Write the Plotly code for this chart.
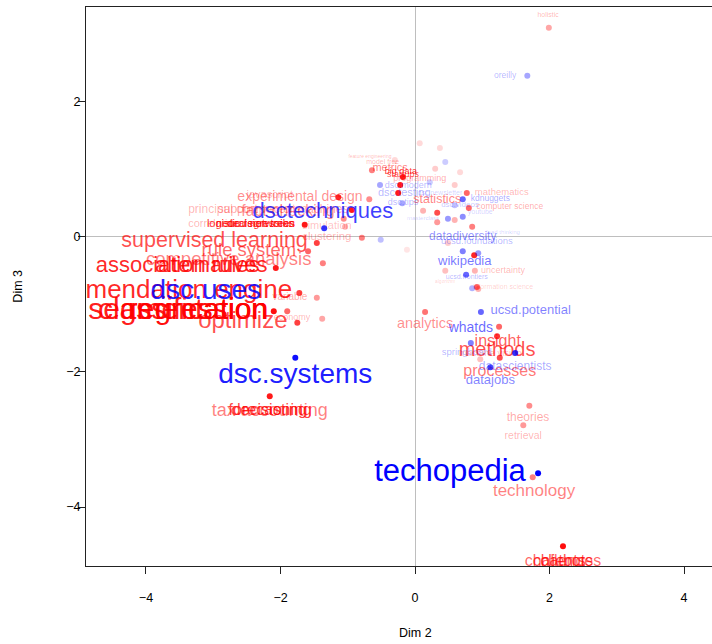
import plotly.graph_objects as go

# ---------------- data (CA map, Dim 2 vs Dim 3) ----------------
# Row points (terms, red): coordinates and contribution-based alpha
term_px = [1.99, -0.64, -0.18, -0.22, -0.25, 0.07, 0.37, 0.30, 0.77, 0.80, -0.68, -1.14, -0.94,
           -1.06, -1.04, -0.79, -1.64, -1.46, -1.59, -1.37, -2.07, -1.72, -1.46, -2.10, -1.90,
           -1.38, -1.75, -2.16, 0.15, 1.25, 1.22, 1.26, 0.97, 1.70, 1.61, 1.75, 2.20, 0.33, 0.33,
           0.12, 0.59, 0.85, 0.88, 0.45, 0.89, 0.92, 0.94, -0.12, -0.30, 0.67, 0.59, 0.49]
term_py = [3.10, 0.99, 0.89, 0.77, 0.65, 1.39, 1.32, 1.01, 0.65, 0.43, 0.56, 0.59, 0.40,
           0.27, 0.15, -0.01, 0.18, -0.09, -0.21, -0.39, -0.46, -0.83, -0.90, -1.10, -1.10,
           -1.21, -1.27, -2.36, -1.11, -1.33, -1.47, -1.79, -1.81, -2.50, -2.79, -3.56, -4.58, 0.36, 0.22,
           0.39, 0.25, 0.15, -0.27, -0.50, -0.50, -0.74, -0.77, -0.19, 1.14, 0.96, 0.77, -0.09]
term_pa = [0.35, 0.5, 0.9, 0.9, 0.9, 0.15, 0.15, 0.2, 0.6, 0.6, 0.45, 0.85, 0.9,
           0.45, 0.3, 0.5, 0.9, 0.75, 0.6, 0.5, 0.9, 0.75, 0.4, 0.95, 0.6,
           0.35, 0.75, 0.9, 0.55, 0.6, 0.8, 0.7, 0.25, 0.45, 0.4, 0.5, 0.95, 0.7, 0.4,
           0.3, 0.3, 0.5, 0.85, 0.25, 0.3, 0.6, 0.3, 0.1, 0.15, 0.15, 0.2, 0.2]

term_names = ["holistic", "feature engineering", "model free", "metrics", "big data", "startups",
              "programming", "statistics", "mathematics", "computer science", "uncertainty",
              "information science", "algorithm", "analytics", "insight", "methods",
              "machine vision", "processes", "theories", "retrieval", "technology",
              "challenges", "chatbots", "clients", "tax accounting", "forecasting", "decisioning",
              "optimize", "economy", "variable", "recommendation engine", "segmentation",
              "classification", "regression", "association rules", "alternatives",
              "competitive analysis", "rule system", "supervised learning", "clustering",
              "simulation", "correlation", "logistic regression", "neural networks",
              "decision trees", "principal components", "support vector machines",
              "fact checking", "javascript", "experimental design"]
term_lx = [1.98, -0.67, -0.48, -0.37, -0.21, -0.18, 0.07, 0.33, 1.29, 1.41, 1.31, 1.31, 0.45,
           0.15, 1.23, 1.22, 1.12, 1.26, 1.68, 1.61, 1.77, 2.20, 2.20, 2.20, -2.16, -2.19, -2.13,
           -2.56, -1.83, -1.86, -3.90, -3.52, -3.45, -3.23, -3.53, -3.03, -2.77, -2.47, -2.98,
           -1.31, -1.31, -2.99, -2.44, -2.38, -2.29, -2.53, -1.96, -1.89, -2.16, -1.71]
term_ly = [3.29, 1.19, 1.11, 1.02, 0.96, 0.92, 0.86, 0.55, 0.65, 0.44, -0.50, -0.74, -0.67,
           -1.30, -1.56, -1.69, -1.73, -2.00, -2.68, -2.96, -3.78, -4.81, -4.81, -4.81, -2.58, -2.58, -2.58,
           -1.26, -1.20, -0.90, -0.81, -1.10, -1.10, -1.10, -0.44, -0.44, -0.34, -0.21, -0.07,
           0.00, 0.16, 0.19, 0.19, 0.19, 0.19, 0.40, 0.40, 0.37, 0.62, 0.58]
term_size = [7, 5, 7, 11, 9, 9, 9, 12.5, 9.5, 8.5, 9, 7, 5,
             14.5, 16, 20, 9.5, 16, 12, 10.5, 17, 16, 16, 16, 18, 16, 16,
             24, 9, 10, 26, 30, 30, 30, 22, 22, 18.5, 18.5, 21.5,
             11.5, 11, 11, 11, 11, 11, 12, 12, 16, 11, 14]
term_alpha = [0.3, 0.3, 0.3, 0.5, 0.8, 0.7, 0.35, 0.5, 0.3, 0.35, 0.3, 0.2, 0.2,
              0.45, 0.65, 0.7, 0.3, 0.55, 0.35, 0.3, 0.5, 0.6, 0.7, 0.7, 0.5, 0.75, 0.75,
              0.7, 0.3, 0.35, 0.85, 0.9, 0.9, 0.95, 0.85, 0.85, 0.5, 0.6, 0.7,
              0.3, 0.25, 0.3, 0.85, 0.8, 0.85, 0.3, 0.35, 0.45, 0.3, 0.45]

# Column points (sources, blue)
src_px = [1.67, 1.83, -1.78, -1.35, -0.52, -0.19, 0.71, 0.49, 0.71, -0.51, 0.71, 0.94, 0.76,
          0.85, 0.98, 0.83, 1.49, 1.12, 0.45, 0.22, 0.59]
src_py = [2.39, -3.50, -1.79, 0.13, 0.77, 0.50, 0.56, 0.27, 0.30, -0.04, -0.21, -0.24, -0.56,
          -0.76, -1.11, -1.57, -1.72, -1.93, 1.11, 0.81, 0.47]
src_pa = [0.35, 1.0, 0.95, 0.8, 0.35, 0.35, 0.6, 0.4, 0.45, 0.25, 0.5, 0.4, 0.6,
          0.3, 0.6, 0.5, 0.8, 0.7, 0.2, 0.2, 0.25]

src_names = ["oreilly", "dsc.modern", "dsc.testing", "dsc.tips", "dsc.newsletter", "kdnuggets",
             "dsc.videos", "youtube", "masterclass", "lead thinking", "datadiversity",
             "ucsd.foundations", "wikipedia", "ucsd.frontiers", "ucsd.potential", "whatds",
             "springboard", "datascientists", "datajobs", "techopedia", "dsc.systems",
             "dsc.uses", "dsctechniques"]
src_lx = [1.34, -0.10, -0.16, -0.18, 0.37, 1.12, 0.67, 0.97, 0.12, 1.31, 0.71, 0.92, 0.74,
          0.77, 1.72, 0.83, 0.77, 1.49, 1.12, 0.52, -1.78, -3.11, -1.37]
src_ly = [2.39, 0.76, 0.65, 0.50, 0.65, 0.56, 0.47, 0.37, 0.28, 0.07, 0.00, -0.07, -0.37,
          -0.59, -1.10, -1.36, -1.72, -1.93, -2.13, -3.50, -2.06, -0.81, 0.37]
src_size = [8.5, 9, 11, 9, 7, 8.5, 8, 7, 6, 6, 12, 9.5, 13, 7, 13, 14, 9.5, 12, 13, 31, 28, 28, 22]
src_alpha = [0.3, 0.3, 0.3, 0.3, 0.2, 0.35, 0.25, 0.2, 0.2, 0.2, 0.45, 0.3, 0.55, 0.3, 0.5, 0.6,
             0.3, 0.35, 0.5, 1.0, 0.9, 0.85, 0.75]

x_ticks = [-4, -2, 0, 2, 4]
y_ticks = [-4, -2, 0, 2]
x_title = "Dim 2"
y_title = "Dim 3"

# ---------------- figure ----------------
FONT = "Liberation Sans, Arial, Helvetica, sans-serif"
RED = "255,0,0"
BLUE = "0,0,255"


def rgba(c, a):
    return f"rgba({c},{a})"


fig = go.Figure()
fig.add_trace(go.Scatter(
    x=term_px, y=term_py, mode="markers",
    marker=dict(size=6, color=[rgba(RED, a) for a in term_pa], line=dict(width=0)),
    hoverinfo="skip", showlegend=False))
fig.add_trace(go.Scatter(
    x=term_lx, y=term_ly, mode="text", text=term_names, textposition="middle center",
    textfont=dict(family=FONT, size=term_size, color=[rgba(RED, a) for a in term_alpha]),
    hoverinfo="skip", showlegend=False))
fig.add_trace(go.Scatter(
    x=src_px, y=src_py, mode="markers",
    marker=dict(size=6, color=[rgba(BLUE, a) for a in src_pa], line=dict(width=0)),
    hoverinfo="skip", showlegend=False))
fig.add_trace(go.Scatter(
    x=src_lx, y=src_ly, mode="text", text=src_names, textposition="middle center",
    textfont=dict(family=FONT, size=src_size, color=[rgba(BLUE, a) for a in src_alpha]),
    hoverinfo="skip", showlegend=False))

axis_common = dict(
    showgrid=False, zeroline=True, zerolinecolor="#BEBEBE", zerolinewidth=1,
    showline=True, linecolor="#222222", linewidth=1, automargin=False,
    ticks="outside", ticklen=7, tickcolor="#222222", tickwidth=1,
    tickfont=dict(family=FONT, size=12.5, color="#000000"),
)

fig.update_layout(
    width=712, height=644,
    margin=dict(l=86, r=0, t=7, b=78, autoexpand=False),
    paper_bgcolor="white", plot_bgcolor="white",
    font=dict(family=FONT, color="#000000"),
    xaxis=dict(range=[-4.892, 4.416], tickvals=x_ticks, mirror=True,
               ticklabelstandoff=13, **axis_common),
    yaxis=dict(range=[-4.874, 3.407], tickvals=y_ticks, mirror=False,
               ticklabelstandoff=-5, **axis_common),
    annotations=[
        dict(text=x_title, xref="x", yref="paper", x=0, y=-0.12, showarrow=False,
             font=dict(family=FONT, size=12.5, color="#000000"), xanchor="center", yanchor="middle"),
        dict(text=y_title, xref="paper", yref="paper", x=-0.110, y=0.5, showarrow=False,
             textangle=-90, font=dict(family=FONT, size=12.5, color="#000000"),
             xanchor="center", yanchor="middle"),
    ],
)

fig.write_html("out.html", config={"displayModeBar": False},
               post_script="document.body.style.margin='0px';document.body.style.overflow='hidden';")
